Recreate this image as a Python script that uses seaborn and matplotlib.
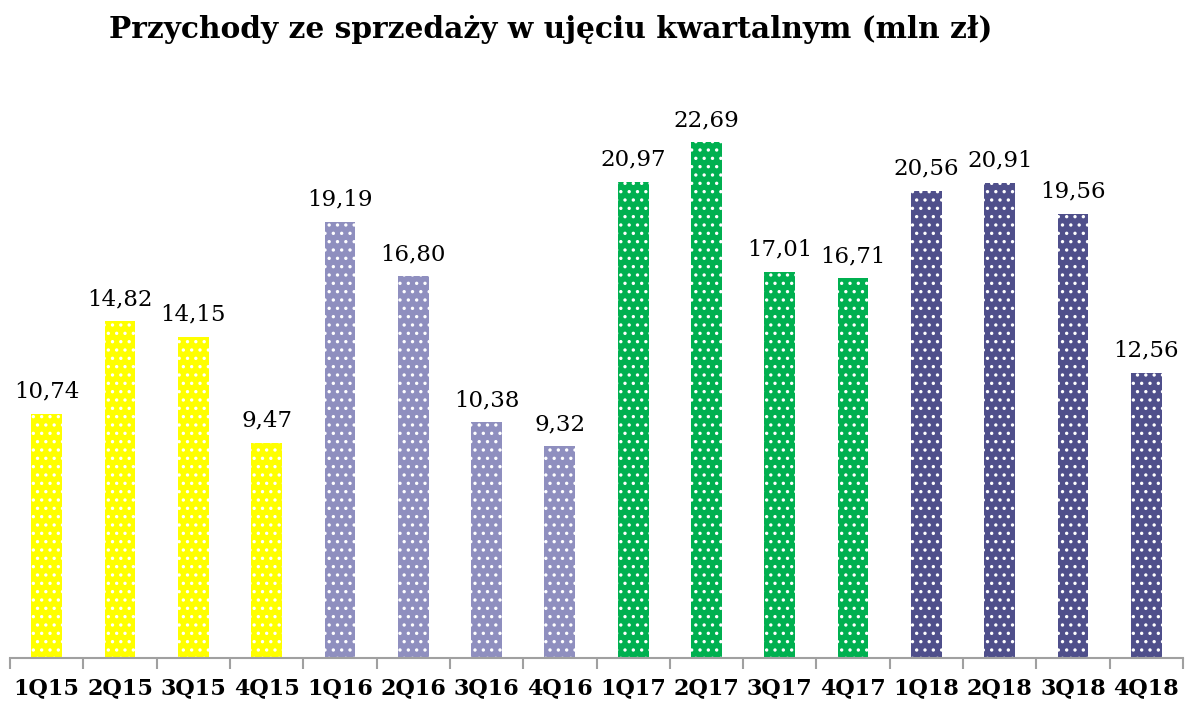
import matplotlib
matplotlib.use("Agg")
import matplotlib.pyplot as plt
import seaborn as sns
import pandas as pd

categories = ["1Q15", "2Q15", "3Q15", "4Q15", "1Q16", "2Q16", "3Q16", "4Q16",
              "1Q17", "2Q17", "3Q17", "4Q17", "1Q18", "2Q18", "3Q18", "4Q18"]
values = [10.74, 14.82, 14.15, 9.47, 19.19, 16.80, 10.38, 9.32,
          20.97, 22.69, 17.01, 16.71, 20.56, 20.91, 19.56, 12.56]
years = ["2015"] * 4 + ["2016"] * 4 + ["2017"] * 4 + ["2018"] * 4
year_colors = {"2015": "#FFFF00", "2016": "#8F8FBF", "2017": "#00B050", "2018": "#4F4F8B"}
title = "Przychody ze sprzedaży w ujęciu kwartalnym (mln zł)"

sns.set_theme(style="white")
plt.rcParams["font.family"] = ["DejaVu Serif"]
plt.rcParams["hatch.linewidth"] = 1.2
plt.rcParams["text.color"] = "black"
plt.rcParams["xtick.color"] = "black"

df = pd.DataFrame({"kw": categories, "val": values, "rok": years})

fig = plt.figure(figsize=(11.9, 7.04), dpi=100)
ax = fig.add_axes([10 / 1190, 46 / 704, (1183 - 10) / 1190, (658 - 90) / 704])

sns.barplot(data=df, x="kw", y="val", hue="rok", palette=year_colors,
            dodge=False, width=0.42, legend=False, ax=ax, saturation=1)

for p in ax.patches:
    p.set_hatch("..")
    p.set_edgecolor("white")
    p.set_linewidth(0)

for cont in ax.containers:
    ax.bar_label(cont, labels=[f"{v:.2f}".replace(".", ",") for v in cont.datavalues],
                 padding=8, fontsize=16.5, color="black")

ax.set_ylim(0, 25.0)
ax.set_xlim(-0.5, len(categories) - 0.5)
ax.set_xlabel("")
ax.set_ylabel("")
ax.set_yticks([])
for s in ["top", "right", "left"]:
    ax.spines[s].set_visible(False)
ax.spines["bottom"].set_color("#A0A0A0")
ax.spines["bottom"].set_linewidth(1.5)

ax.set_xticks(range(len(categories)))
ax.set_xticklabels(categories, fontsize=16, fontweight="bold", color="black")
ax.tick_params(axis="x", which="major", length=0, pad=14)
ax.set_xticks([i - 0.5 for i in range(len(categories) + 1)], minor=True)
ax.tick_params(axis="x", which="minor", length=8, width=1.5, color="#A0A0A0", bottom=True)

fig.text(551 / 1190, 1 - 30 / 704, title, ha="center", va="center",
         fontsize=21.3, fontweight="bold", color="black")

fig.savefig("out.png", dpi=100, facecolor="white")
